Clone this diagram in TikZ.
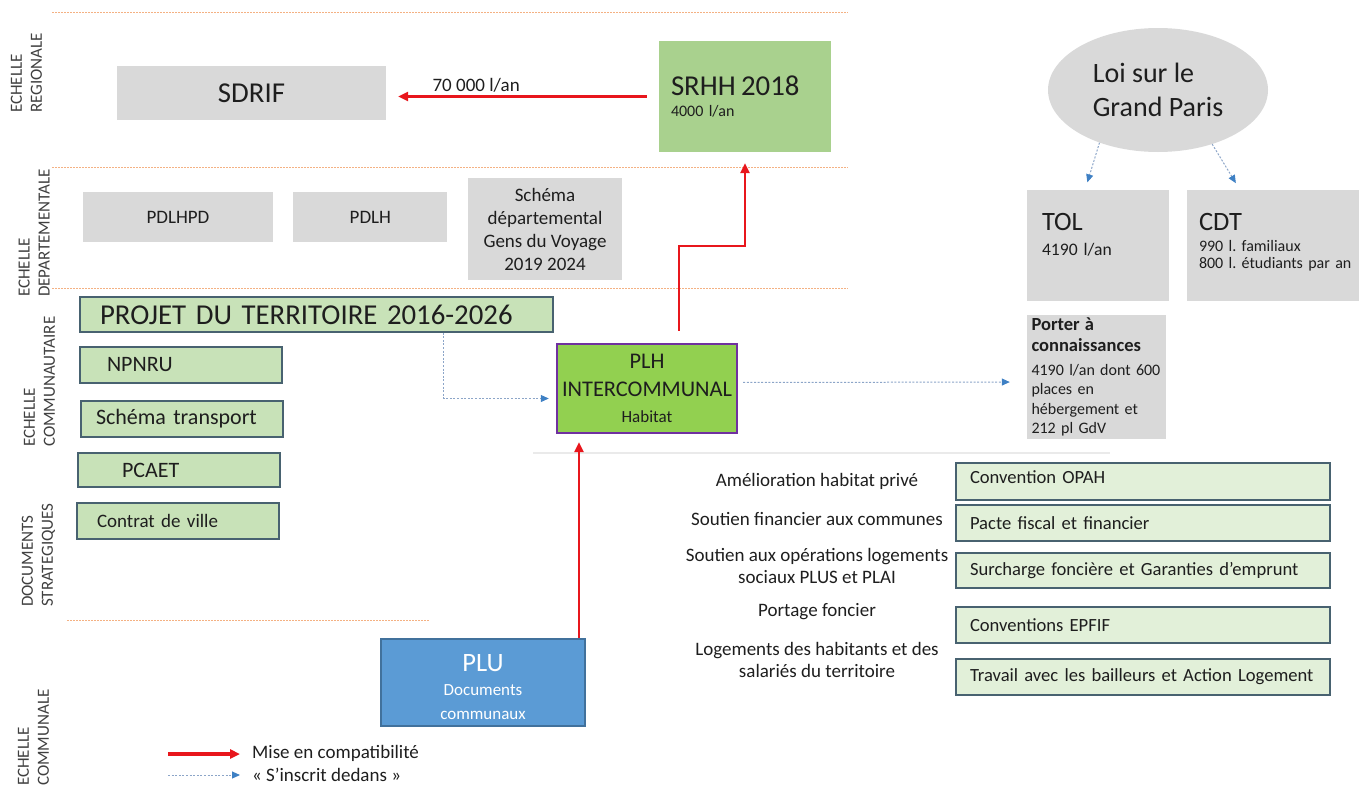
\documentclass[tikz,border=0pt]{standalone}
\usepackage{fontspec}
\setmainfont{Carlito}
\usepackage{tikz}
\usetikzlibrary{arrows.meta, positioning, calc, shapes.geometric}
\definecolor{diagInk}{RGB}{30,30,30}
\definecolor{diagSide}{RGB}{64,64,64}
\definecolor{diagGray}{RGB}{217,217,217}
\definecolor{diagSage}{RGB}{169,209,142}
\definecolor{diagLime}{RGB}{146,208,80}
\definecolor{diagPurple}{RGB}{112,48,160}
\definecolor{diagMint}{RGB}{200,226,184}
\definecolor{diagPale}{RGB}{226,240,217}
\definecolor{diagSlate}{RGB}{72,98,112}
\definecolor{diagSky}{RGB}{91,155,213}
\definecolor{diagSkyEdge}{RGB}{65,113,156}
\definecolor{diagRed}{RGB}{232,22,28}
\definecolor{diagBlue}{RGB}{62,128,196}
\definecolor{diagBlueLine}{RGB}{140,165,200}
\definecolor{diagRule}{RGB}{244,177,131}
\definecolor{diagFaint}{RGB}{234,234,234}
\newcommand{\sizept}[2]{\fontsize{#1pt}{#2pt}\selectfont}
\tikzset{
  % plain box; the fill and the edge come from the *box styles below
  box/.style={inner sep=0pt, align=center, text=diagInk},
  greybox/.style={box, fill=diagGray},
  sagebox/.style={box, fill=diagSage},
  mintbox/.style={box, fill=diagMint, draw=diagSlate, line width=1.3pt},
  palebox/.style={box, fill=diagPale, draw=diagSlate, line width=1.3pt},
  plhbox/.style={box, fill=diagLime, draw=diagPurple, line width=2.4pt},
  plubox/.style={box, fill=diagSky, draw=diagSkyEdge, line width=1.3pt, text=white},
  oval/.style={box, ellipse, fill=diagGray},
  % documents of the community column and the actions on the right
  doc/.style={mintbox, align=left, minimum height=36pt, font=\sizept{22}{26}},
  act/.style={palebox, align=left, text width=352pt, inner xsep=11pt,
              minimum height=36pt, font=\sizept{18.6}{22}},
  % arrows
  compat/.style={-{Triangle[length=10pt,width=9pt]}, draw=diagRed, line width=2.6pt},
  insc/.style={-{Triangle[length=8pt,width=7pt,color=diagBlue]}, draw=diagBlueLine,
               line width=1pt, dash pattern=on 2pt off 1.6pt},
  % level separators and level names
  rule/.style={draw=diagRule, line width=1pt, dash pattern=on 1.5pt off 1.5pt},
  side/.style={rotate=90, anchor=west, align=left, inner sep=0pt, text=diagSide,
               font=\sizept{17}{20}},
  % small texts
  tag/.style={inner sep=1pt, text=diagInk, font=\sizept{19}{22}},
  aim/.style={inner sep=0pt, align=center, text=diagInk, font=\sizept{19}{22}},
}

\begin{document}
\begin{tikzpicture}[x=1pt, y=-1pt]
\useasboundingbox (0,0) rectangle (1364,787);

% ============================ level separators =============================
\draw[rule] (52,12)  -- (848,12);
\draw[rule] (52,167) -- (848,167);
\draw[rule] (52,288) -- (848,288);
\draw[rule] (67,620) -- (429,620);
\draw[draw=diagFaint, line width=2pt] (533,453) -- (1110,453);

\node[side] (lvreg)   at (26.5,113) {ECHELLE\\REGIONALE};
\node[side] (lvdep)   at (34,297)   {ECHELLE\\DEPARTEMENTALE};
\node[side] (lvcom)   at (39.5,447) {ECHELLE\\COMMUNAUTAIRE};
\node[side] (lvstrat) at (38.5,607) {DOCUMENTS\\STRATEGIQUES};
\node[side] (lvcmnl)  at (33.5,786) {ECHELLE\\COMMUNALE};

% ============================= regional level ==============================
\node[greybox, minimum width=269pt, minimum height=54pt, font=\sizept{28.8}{32}]
      (sdrif) at (251.5,93) {SDRIF};
\node[sagebox, align=left, text width=148pt, inner xsep=12pt, minimum height=111pt,
      font=\sizept{16}{21}] (srhh) at (745,96.5)
      {{\sizept{28.8}{30}SRHH 2018}\\4000 l/an};

\draw[compat, shorten <=12pt, shorten >=12pt] (srhh.west) -- (srhh.west -| sdrif.east)
      node[tag, pos=0.67, above=2pt] {70 000 l/an};

% =========================== departmental level ============================
\node[greybox, minimum width=190pt, minimum height=50pt, font=\sizept{19}{22}]
      (pdlhpd) at (178,217) {PDLHPD};
\node[greybox, minimum width=154pt, minimum height=50pt, font=\sizept{19}{22},
      right=20pt of pdlhpd] (pdlh) {PDLH};
\node[greybox, minimum width=154pt, minimum height=102pt, font=\sizept{19}{23}]
      (gdv) at (545,229) {Schéma\\départemental\\Gens du Voyage\\2019 2024};

% ============================ Grand Paris side =============================
\node[oval, minimum width=220pt, minimum height=124pt, align=left,
      font=\sizept{28}{34.5}] (loi) at (1158,90) {Loi sur le\\Grand Paris};

\node[greybox, anchor=north, align=left, text width=112pt, inner xsep=15pt,
      font=\sizept{17.6}{25}] (tol) at (1098,190)
      {\rule{0pt}{40pt}{\sizept{26.5}{28}TOL}\\4190 l/an\rule[-46pt]{0pt}{0pt}};
\node[greybox, anchor=north, align=left, text width=166pt, inner xsep=3pt,
      font=\sizept{16}{21}] (cdt) at (1273,190)
      {\rule{0pt}{40pt}\hspace*{9pt}{\sizept{26.5}{28}CDT}\\\hspace*{9pt}990 l.\ familiaux\\[-4pt]\hspace*{9pt}\mbox{800 l.\ étudiants par an}\rule[-33pt]{0pt}{0pt}};

\draw[insc, shorten >=8pt] (loi.222) -- ($(tol.north)+(-13,0)$);
\draw[insc, shorten >=8pt] (loi.315) -- ($(cdt.north)+(-33,0)$);

\node[greybox, align=left, text width=130pt, inner xsep=4.5pt, minimum height=124pt,
      font=\sizept{16}{19.5}] (porter) at (1096.5,377)
      {{\bfseries\sizept{18.5}{21}Porter à}\\[1.5pt]{\bfseries\sizept{18.5}{21}connaissances}\\[4pt]4190 l/an dont 600\\places en\\hébergement et\\212 pl GdV};

% ============================ community level ==============================
\node[mintbox, align=left, text width=433pt, inner xsep=20pt, minimum height=35pt,
      font=\sizept{28.8}{32}] (projet) at (316.5,314.5) {PROJET DU TERRITOIRE 2016-2026};
\node[doc, text width=148pt, inner xsep=27pt] (npnru)  at (181,365) {NPNRU};
\node[doc, text width=172pt, inner xsep=15pt] (transp) at (182,419) {Schéma transport};
\node[doc, text width=114pt, inner xsep=44pt, minimum height=34pt] (pcaet) at (179,470) {PCAET};
\node[doc, text width=162pt, inner xsep=20pt, font=\sizept{19}{22}]
      (cville) at (178,521) {Contrat de ville};

\node[plhbox, minimum width=180pt, minimum height=89pt, font=\sizept{22.4}{28}]
      (plh) at (647,388.5) {PLH\\INTERCOMMUNAL\\[-2.4pt]{\sizept{17}{20}Habitat}};

\draw[insc, shorten >=7pt] ($(projet.south east)+(-110,0)$) |- ($(plh.west)+(0,10)$);
\draw[insc, shorten <=5pt, shorten >=17pt] ($(plh.east)+(0,-6)$) -- ($(porter.west)+(0,5)$);
\draw[compat, shorten <=12pt, shorten >=11pt] ($(plh.north)+(32,0)$) -- ++(0,-97) -| (srhh.south);

% ============================ PLH actions ==================================
\node[aim] (amel)    at (817,481) {Amélioration habitat privé};
\node[aim] (soutfin) at (817,519) {Soutien financier aux communes};
\node[aim] (soutop)  at (817,566) {Soutien aux opérations logements\\sociaux PLUS et PLAI};
\node[aim] (portage) at (817,612) {Portage foncier};
\node[aim] (logts)   at (817,660) {Logements des habitants et des\\salariés du territoire};

\node[act, minimum height=37pt] (opah) at (1143,481.5)
      {\hspace*{3pt}Convention OPAH\rule[-8pt]{0pt}{0pt}};
\node[act] (pacte) at (1143,523)   {\hspace*{3pt}Pacte fiscal et financier};
\node[act, minimum height=35pt] (surch) at (1143,570.5)
      {\hspace*{3pt}Surcharge foncière et Garanties d’emprunt};
\node[act] (epfif) at (1143,625)   {\hspace*{3pt}Conventions EPFIF};
\node[act] (bail)  at (1143,677)   {\hspace*{3pt}Travail avec les bailleurs et Action Logement};

% ============================= communal level ==============================
\node[plubox, minimum width=204pt, minimum height=87pt, font=\sizept{17}{24}]
      (plu) at (483,682.5) {{\sizept{26.5}{28}\rule{0pt}{27pt}PLU}\\Documents\\communaux};

\draw[compat, shorten >=8pt] ($(plu.north)+(96,0)$) -- ($(plh.south)+(-68,0)$);

% ================================ legend ===================================
\coordinate (lgcA) at (168,754);
\coordinate (lgcB) at (240,754);
\coordinate (lgiA) at (168,775);
\coordinate (lgiB) at (240,775);
\draw[compat, line width=3.4pt] (lgcA) -- (lgcB);
\draw[insc] (lgiA) -- (lgiB);
\node[tag, anchor=west, inner sep=0pt] (lgc) at (252,753) {Mise en compatibilité};
\node[tag, anchor=west, inner sep=0pt] (lgi) at (252,775) {«~S’inscrit dedans~»};

\end{tikzpicture}
\end{document}
